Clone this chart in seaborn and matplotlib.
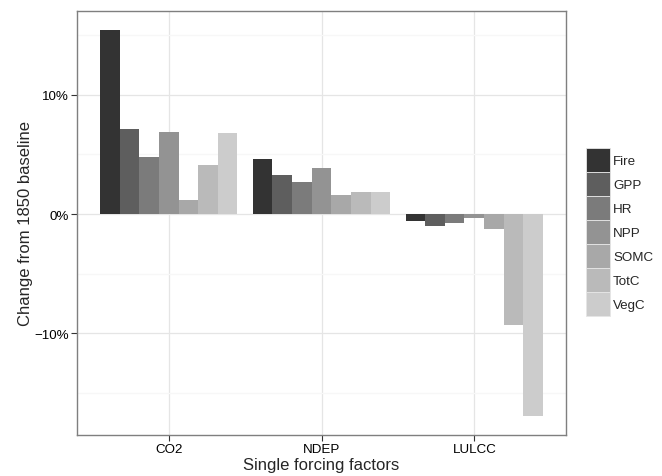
import matplotlib
matplotlib.use('Agg')
import matplotlib.pyplot as plt
import matplotlib.patches as mpatches
from matplotlib.ticker import FixedLocator, FuncFormatter
import pandas as pd
import seaborn as sns

factors = ['CO2', 'NDEP', 'LULCC']
variables = ['Fire', 'GPP', 'HR', 'NPP', 'SOMC', 'TotC', 'VegC']
co2 = [15.4, 7.1, 4.8, 6.9, 1.2, 4.1, 6.8]
ndep = [4.6, 3.3, 2.7, 3.85, 1.6, 1.85, 1.85]
lulcc = [-0.6, -1.0, -0.75, -0.3, -1.25, -9.3, -16.9]
greys = ['#333333', '#5e5e5e', '#7b7b7b', '#939393', '#a8a8a8', '#bababa', '#cccccc']

df = pd.DataFrame({
    'factor': [f for f in factors for _ in variables],
    'variable': variables * len(factors),
    'value': co2 + ndep + lulcc,
})

sns.set_style('white')
plt.rcParams['font.family'] = ['Liberation Sans', 'DejaVu Sans']

fig = plt.figure(figsize=(6.62, 4.77), dpi=100)
ax = fig.add_axes([77 / 662, 41 / 477, 489 / 662, 424 / 477])

sns.barplot(data=df, x='factor', y='value', hue='variable', order=factors,
            hue_order=variables, palette=greys, width=0.9, saturation=1,
            linewidth=0, ax=ax, legend=False, zorder=3)

ax.set_xlim(-0.6, 2.6)
ax.set_ylim(-18.5, 17.0)

# grid lines, ggplot theme_bw look
ax.yaxis.set_major_locator(FixedLocator([-10, 0, 10]))
ax.yaxis.set_minor_locator(FixedLocator([-15, -5, 5, 15]))
ax.yaxis.set_major_formatter(FuncFormatter(lambda v, p: f'{v:.0f}%'.replace('-', '\u2212')))
ax.grid(True, which='major', color='#e5e5e5', lw=0.9, zorder=0)
ax.grid(True, which='minor', axis='y', color='#f7f7f7', lw=0.9, zorder=0)
ax.set_axisbelow(True)

for s in ax.spines.values():
    s.set_color('#7f7f7f')
    s.set_linewidth(1.0)

ax.tick_params(axis='both', which='major', bottom=True, left=True, length=4, width=0.8,
               color='#333333', labelsize=9.6, labelcolor='black', direction='out', pad=2)
ax.tick_params(axis='y', which='minor', length=0)

ax.set_xlabel('Single forcing factors', fontsize=12, labelpad=1)
ax.set_ylabel('Change from 1850 baseline', fontsize=12, labelpad=1)

handles = [mpatches.Patch(facecolor=c, edgecolor='#e6e6e6', linewidth=0.6) for c in greys]
fig.legend(handles, variables, loc='upper left', bbox_to_anchor=(583 / 662, 1 - 146 / 477),
           frameon=False, fontsize=9.6, handlelength=1.8, handleheight=2.39,
           labelspacing=0, handletextpad=0.25, borderpad=0.2, borderaxespad=0)

fig.savefig('out.png', dpi=100)
